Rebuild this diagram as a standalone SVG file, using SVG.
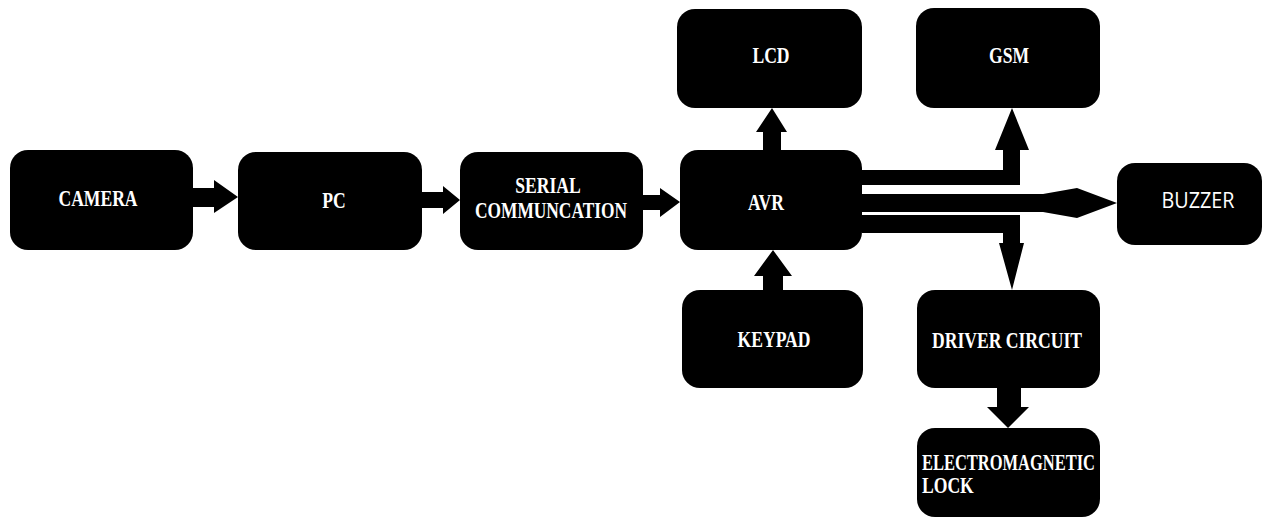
<svg xmlns="http://www.w3.org/2000/svg" width="1269" height="524" viewBox="0 0 1269 524">
<style>
.box{fill:#000}
.con{fill:#000}
.t{font-family:"Liberation Serif","Times New Roman",serif;font-weight:bold;font-size:17.6px;fill:#fff;text-anchor:middle}
.tl{text-anchor:start}
.s{font-family:"Open Sans","Liberation Sans",sans-serif;font-weight:normal;font-size:21px;fill:#fff;text-anchor:middle}
</style>
<rect width="1269" height="524" fill="#fff"/>
<g id="connectors">
<polygon class="con" points="193,188 214,188 214,180 238,197 214,213 214,207 193,207"/>
<polygon class="con" points="422,192 443,192 443,186 460,200 443,214 443,208 422,208"/>
<polygon class="con" points="643,195 660,195 660,188 680,202 660,217 660,210 643,210"/>
<polygon class="con" points="763,150 763,132 756,132 772,108 787,132 781,132 781,150"/>
<polygon class="con" points="862,170 1003,170 1003,150 995,150 1012,108 1029,150 1020,150 1020,185 862,185"/>
<polygon class="con" points="862,194 1043,194 1077,188 1117,203 1077,218 1043,212 862,212"/>
<polygon class="con" points="862,215 1020,215 1020,243 1024,243 1012,290 999,243 1003,243 1003,233 862,233"/>
<polygon class="con" points="763,290 763,276 754,276 773,250 792,276 783,276 783,290"/>
<polygon class="con" points="997,388 997,407 987,407 1008,428 1029,407 1021,407 1021,388"/>
</g>
<g id="camera"><rect class="box" x="10" y="150" width="183" height="100" rx="18"/><text class="t" transform="translate(98,206) scale(1,1.28)">CAMERA</text></g>
<g id="pc"><rect class="box" x="238" y="152" width="184" height="98" rx="18"/><text class="t" transform="translate(334,208) scale(1,1.28)">PC</text></g>
<g id="serial"><rect class="box" x="460" y="152" width="183" height="98" rx="18"/><text class="t" transform="translate(548,193) scale(1,1.28)">SERIAL</text><text class="t" transform="translate(551,218) scale(1,1.28)" textLength="152" lengthAdjust="spacingAndGlyphs">COMMUNCATION</text></g>
<g id="avr"><rect class="box" x="680" y="150" width="182" height="100" rx="18"/><text class="t" transform="translate(766,210) scale(1,1.28)">AVR</text></g>
<g id="lcd"><rect class="box" x="677" y="9" width="185" height="99" rx="18"/><text class="t" transform="translate(771,63) scale(1,1.28)">LCD</text></g>
<g id="gsm"><rect class="box" x="916" y="8" width="184" height="100" rx="18"/><text class="t" transform="translate(1009,63) scale(1,1.28)">GSM</text></g>
<g id="buzzer"><rect class="box" x="1117" y="163" width="145" height="82" rx="18"/><text class="s" x="1198" y="208" textLength="73" lengthAdjust="spacingAndGlyphs">BUZZER</text></g>
<g id="keypad"><rect class="box" x="682" y="290" width="181" height="98" rx="18"/><text class="t" transform="translate(774,347) scale(1,1.28)">KEYPAD</text></g>
<g id="driver"><rect class="box" x="917" y="290" width="183" height="98" rx="18"/><text class="t" transform="translate(1007,348) scale(1,1.28)">DRIVER CIRCUIT</text></g>
<g id="lock"><rect class="box" x="917" y="428" width="183" height="89" rx="18"/><text class="t tl" transform="translate(922,470) scale(1,1.28)" textLength="173" lengthAdjust="spacingAndGlyphs">ELECTROMAGNETIC</text><text class="t tl" transform="translate(922,493) scale(1,1.28)">LOCK</text></g>
</svg>
